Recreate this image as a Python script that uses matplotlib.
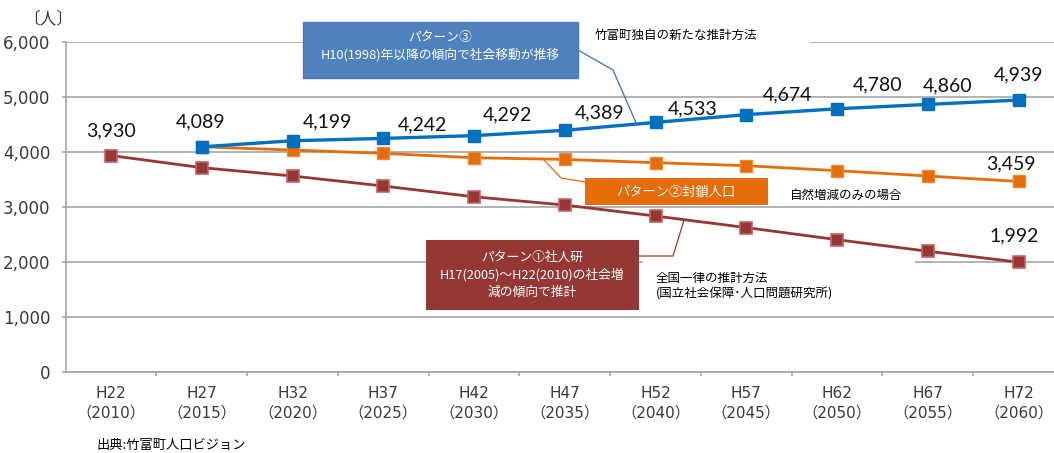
import matplotlib
matplotlib.use('Agg')
import matplotlib.pyplot as plt
import numpy as np
from matplotlib.patches import Rectangle
from matplotlib.lines import Line2D
from matplotlib.transforms import Affine2D

# data
years = ['H22\n（2010）', 'H27\n（2015）', 'H32\n（2020）', 'H37\n（2025）', 'H42\n（2030）', 'H47\n（2035）',
         'H52\n（2040）', 'H57\n（2045）', 'H62\n（2050）', 'H67\n（2055）', 'H72\n（2060）']
pattern3 = [np.nan, 4089, 4199, 4242, 4292, 4389, 4533, 4674, 4780, 4860, 4939]
pattern2 = [np.nan, 4089, 4030, 3970, 3890, 3860, 3800, 3745, 3655, 3558, 3459]
pattern1 = [3930, 3710, 3558, 3376, 3180, 3030, 2830, 2620, 2400, 2190, 1992]

# which points carry a value label, and where the label sits (offset in pixels)
label3 = [None, (-1, 25), (35, 19), (39, 14), (33, 21), (35, 17), (37, 14), (41, 20), (40, 24), (20, 19), (0, 25)]
label2 = {10: (-8, 18)}
label1 = {0: (0, 25), 10: (-4, 26)}

W, H = 1054, 453
fig = plt.figure(figsize=(W / 100, H / 100), dpi=100)
fig.patch.set_facecolor('white')

# axes placed by pixel
left, right, top, bottom = 65.7, 1064.0, 41.7, 371.7
ax = fig.add_axes([left / W, 1 - bottom / H, (right - left) / W, (bottom - top) / H])

# pixel helper (origin top-left)
px = Affine2D().scale(1 / W, -1 / H).translate(0, 1) + fig.transFigure

jp = ['Noto Sans CJK JP', 'DejaVu Sans']
num_font = ['Lato', 'DejaVu Sans']
grid_c = '#A6A6A6'
txt_c = '#3A3A3A'

x = np.arange(len(years))

# series
ax.plot(x, pattern1, color='#953735', lw=2.0, marker='s', ms=8.5,
        mfc='#953735', mec='#C8605E', mew=1.2, zorder=3)
ax.plot(x, pattern2, color='#E46C0A', lw=2.0, marker='s', ms=8.5,
        mfc='#E46C0A', mec='#F08A30', mew=1.0, zorder=4)
ax.plot(x, pattern3, color='#0070C0', lw=2.4, marker='s', ms=8.5,
        mfc='#0070C0', mec='#0070C0', zorder=5)

# value labels
for i, v in enumerate(pattern3):
    if label3[i] is not None:
        ax.annotate(f'{v:,}', (x[i], v), xytext=label3[i], textcoords='offset pixels',
                    ha='center', va='center', fontsize=14, family=num_font, color='#111111')
for i, off in label2.items():
    ax.annotate(f'{pattern2[i]:,}', (x[i], pattern2[i]), xytext=off, textcoords='offset pixels',
                ha='center', va='center', fontsize=14, family=num_font, color='#111111')
for i, off in label1.items():
    ax.annotate(f'{pattern1[i]:,}', (x[i], pattern1[i]), xytext=off, textcoords='offset pixels',
                ha='center', va='center', fontsize=14, family=num_font, color='#111111')

# limits, ticks
ax.set_xlim(-0.5, len(years) - 0.5)
ax.set_ylim(0, 6000)
ax.set_yticks(np.arange(0, 6001, 1000))
ax.set_yticklabels([f'{v:,}' for v in range(0, 6001, 1000)])
ax.set_xticks(np.arange(0.5, len(years) - 0.5, 1))
ax.set_xticklabels([])
ax.set_xticks(x, minor=True)
ax.set_xticklabels(years, minor=True, linespacing=1.45)
ax.tick_params(axis='x', which='major', length=3, color=grid_c, width=1.2, direction='out')
ax.tick_params(axis='x', which='minor', length=0, pad=10, labelsize=11, labelcolor=txt_c)
ax.tick_params(axis='y', length=3, color=grid_c, width=1.2, pad=8, labelsize=12, labelcolor=txt_c)
for t in ax.get_xticklabels(minor=True):
    t.set_family(['DejaVu Sans', 'Noto Sans CJK JP'])
for t in ax.get_yticklabels():
    t.set_family(['DejaVu Sans'])

# grid, spines
ax.set_axisbelow(True)
ax.yaxis.grid(True, color=grid_c, lw=1.2)
ax.spines['top'].set_color('none')
ax.spines['right'].set_color('none')
ax.spines['left'].set_color(grid_c)
ax.spines['bottom'].set_color(grid_c)
ax.spines['left'].set_linewidth(1.2)
ax.spines['bottom'].set_linewidth(1.2)

# white backgrounds for side notes (hide grid behind them)
ax.add_patch(Rectangle((580, 30), 230, 22, transform=px, facecolor='white', edgecolor='none',
                       zorder=1, clip_on=False))
ax.add_patch(Rectangle((643, 254), 272, 52, transform=px, facecolor='white', edgecolor='none',
                       zorder=1, clip_on=False))

# leader lines
ax.add_line(Line2D([578, 613, 637], [50, 70, 125], transform=px, color='#3D6FB0', lw=0.9,
                   zorder=6, clip_on=False))
ax.add_line(Line2D([585, 561, 543], [182, 178, 159], transform=px, color='#E46C0A', lw=0.9,
                   zorder=6, clip_on=False))
ax.add_line(Line2D([639, 673, 684], [256, 256, 220], transform=px, color='#953735', lw=0.9,
                   zorder=6, clip_on=False))

# coloured boxes
ax.add_patch(Rectangle((303, 22), 275, 56, transform=px, facecolor='#4F81BD', edgecolor='#4A7AB5',
                       zorder=7, clip_on=False))
ax.add_patch(Rectangle((585, 178), 183, 27, transform=px, facecolor='#E46C0A', edgecolor='none',
                       zorder=7, clip_on=False))
ax.add_patch(Rectangle((426, 240), 213, 70, transform=px, facecolor='#953735', edgecolor='none',
                       zorder=7, clip_on=False))

ax.text(440, 46.5, 'パターン③\nH10(1998)年以降の傾向で社会移動が推移', transform=px,
        ha='center', va='center', fontsize=9.2, color='white', family=jp, linespacing=1.4, zorder=8)
ax.text(676, 192, 'パターン②封鎖人口', transform=px, ha='center', va='center', fontsize=9.5,
        color='white', family=jp, zorder=8)
ax.text(532, 275, 'パターン①社人研\nH17(2005)～H22(2010)の社会増\n減の傾向で推計', transform=px,
        ha='center', va='center', fontsize=9.2, color='white', family=jp, linespacing=1.4, zorder=8)

# side notes
ax.text(595, 35, '竹富町独自の新たな推計方法', transform=px, ha='left', va='center', fontsize=9,
        color='black', family=jp, zorder=8)
ax.text(790, 195, '自然増減のみの場合', transform=px, ha='left', va='center', fontsize=9,
        color='black', family=jp, zorder=8)
ax.text(656, 286.5, '全国一律の推計方法\n(国立社会保障･人口問題研究所)', transform=px, ha='left',
        va='center', fontsize=9, color='black', family=jp, linespacing=1.25, zorder=8)

# unit and source
fig.text(48 / W, 1 - 19 / H, '〔人〕', ha='center', va='center', fontsize=12, color=txt_c, family=jp)
fig.text(97 / W, 1 - 445 / H, '出典:竹富町人口ビジョン', ha='left', va='center', fontsize=9.5,
         color='black', family=jp)

fig.savefig('out.png', dpi=100)
